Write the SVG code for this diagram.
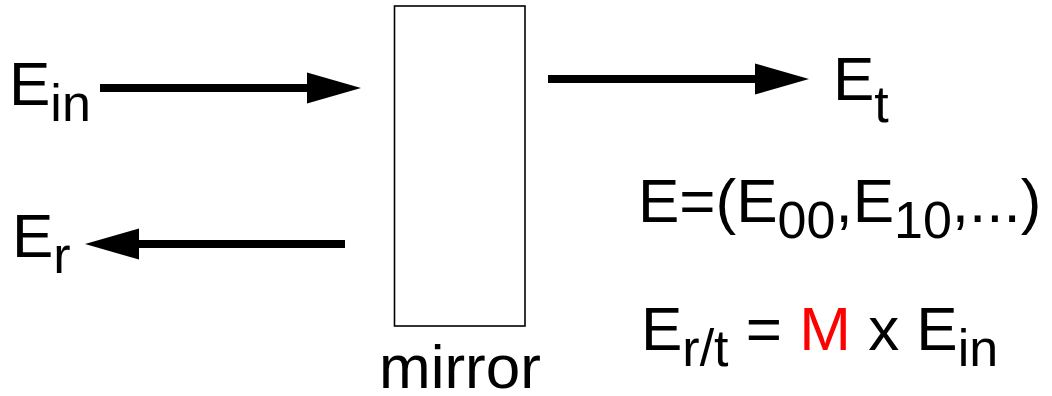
<svg xmlns="http://www.w3.org/2000/svg" width="1052" height="396" viewBox="0 0 1052 396">
<defs>
<style>
text{font-family:"Liberation Sans",Arial,sans-serif;font-size:62px;fill:#000}
.sub{font-size:52px}
.conn{stroke:#000;stroke-width:8;fill:none}
</style>
<marker id="ah" markerUnits="userSpaceOnUse" markerWidth="54" markerHeight="32" viewBox="0 0 52 30" refX="0" refY="15" orient="auto">
<path d="M0,0 L52,15 L0,30 Z" fill="#000"/>
</marker>
</defs>
<rect width="1052" height="396" fill="#fff"/>
<g id="mirror">
<rect x="394.5" y="6" width="130.5" height="320" fill="#fff" stroke="#000" stroke-width="1.6"/>
<text x="379" y="388">mirror</text>
</g>
<g id="Ein"><text x="9" y="105">E<tspan class="sub" dy="16">in</tspan></text></g>
<g id="Er"><text x="12" y="257">E<tspan class="sub" dy="16">r</tspan></text></g>
<g id="Et"><text x="833" y="100">E<tspan class="sub" dy="22">t</tspan></text></g>
<g id="formula1"><text x="638" y="222">E=(E<tspan class="sub" dy="16">00</tspan><tspan dy="-16">,E</tspan><tspan class="sub" dy="16">10</tspan><tspan dy="-16">,...)</tspan></text></g>
<g id="formula2"><text x="641" y="350">E<tspan class="sub" dy="16">r/t</tspan><tspan dy="-16"> = </tspan><tspan style="fill:#ff0000">M</tspan> x E<tspan class="sub" dy="16">in</tspan></text></g>
<g id="connectors">
<line class="conn" x1="100" y1="88" x2="307" y2="88" marker-end="url(#ah)"/>
<line class="conn" x1="345" y1="244" x2="139" y2="244" marker-end="url(#ah)"/>
<line class="conn" x1="548" y1="79" x2="755" y2="79" marker-end="url(#ah)"/>
</g>
</svg>
